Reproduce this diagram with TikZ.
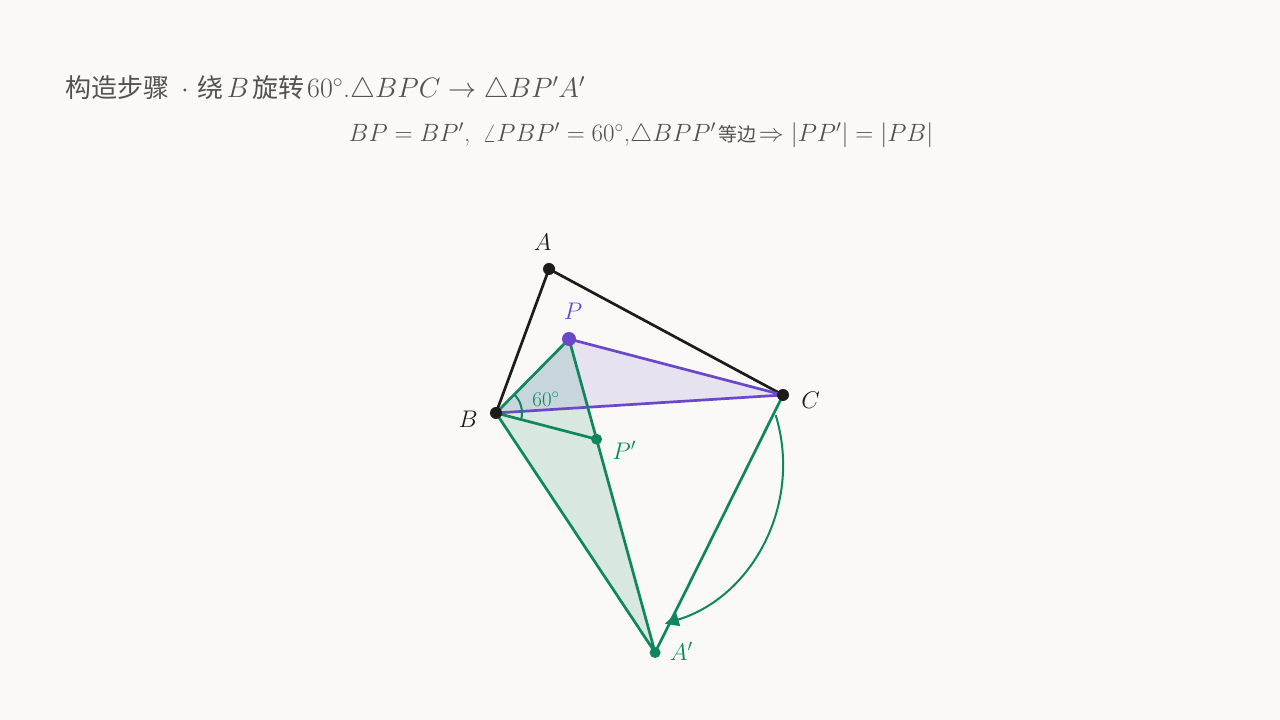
\RequirePackage{fix-cm}
\documentclass[tikz,border=0pt]{standalone}
\usepackage{fontspec}
\newfontfamily\cjk{Noto Sans CJK SC}
\usetikzlibrary{arrows.meta,positioning,calc}
\definecolor{paper}{RGB}{250,249,247}
\definecolor{ink}{RGB}{82,82,82}
\definecolor{dark}{RGB}{28,28,28}
\definecolor{grn}{RGB}{16,134,94}
\definecolor{pur}{RGB}{106,72,200}
\newcommand\hanzi[2]{{\cjk\fontsize{#1}{#1}\selectfont #2}}

\begin{document}
\begin{tikzpicture}[x=1pt,y=1pt,line join=round,
    dot/.style={circle,fill,inner sep=0pt,minimum size=12pt},
    lbl/.style={font=\fontsize{24}{24}\selectfont,inner sep=1pt},
    edge/.style={line width=2.7pt}]

 \fill[paper] (0,0) rectangle (1280,720);

 % heading and the equal-side argument
 \node[anchor=west,text=ink,font=\fontsize{28}{28}\selectfont,inner sep=0pt] (title) at (65,631)
   {\hanzi{26}{构造步骤}\hspace{12pt}$\cdot$\hspace{9pt}\hanzi{26}{绕}\kern3pt$B$\kern3pt\hanzi{26}{旋转}\kern3pt$60^\circ$.$\triangle BPC\to\triangle BP'A'$};
 \node[text=ink,font=\fontsize{25}{25}\selectfont,inner sep=0pt] (claim) at (641,585)
   {$BP=BP'$,\enspace$\angle PBP'=60^\circ$,$\triangle BPP'$\kern3pt\hanzi{19}{等边}\kern2pt$\Rightarrow|PP'|=|PB|$};

 \coordinate (B) at (496,307);
 \coordinate (A) at (549,451);
 \coordinate (C) at (783,325);
 \coordinate (P) at (569,381);
 \coordinate (Q) at ($(B)!1!-60:(P)$);   % P'
 \coordinate (D) at ($(B)!1!-60:(C)$);   % A'
 \coordinate (O) at (616,256);

 % faces
 \fill[pur,opacity=0.13] (B) -- (P) -- (C) -- cycle;
 \fill[grn,opacity=0.14] (B) -- (P) -- (Q) -- (D) -- cycle;

 % sides
 \draw[edge,dark] (B) -- (A) -- (C);
 \draw[edge,pur] (P) -- (C) -- (B);
 \draw[edge,grn] (P) -- (B) -- (Q) (P) -- (Q) -- (D) -- (B) (C) -- (D);
 \draw[grn,line width=2pt] ($(B)+(-14.6:26pt)$) arc[start angle=-14.6,end angle=45.4,radius=26pt];
 \draw[grn,line width=2pt,-{Triangle[length=14pt,width=13pt]}]
   ($(O)+(17:167pt)$) arc[start angle=17,end angle=-73,radius=167pt];

 % points
 \node[dot,dark] (nA) at (A) {};
 \node[dot,dark] (nB) at (B) {};
 \node[dot,dark] (nC) at (C) {};
 \node[dot,pur,minimum size=14pt] (nP) at (P) {};
 \node[dot,grn,minimum size=11pt] (nQ) at (Q) {};
 \node[dot,grn,minimum size=11pt] (nD) at (D) {};

 \node[lbl,dark,above left=13pt and -8pt of nA] (lA) {$A$};
 \node[lbl,dark,left=11pt of nB,yshift=-6pt] (lB) {$B$};
 \node[lbl,dark,right=11pt of nC,yshift=-5pt] (lC) {$C$};
 \node[lbl,pur,above=11pt of nP,xshift=4pt] (lP) {$P$};
 \node[lbl,grn,right=9pt of nQ,yshift=-11pt] (lQ) {$P'$};
 \node[lbl,grn,right=8pt of nD,yshift=1pt] (lD) {$A'$};
 \node[grn,font=\fontsize{21}{21}\selectfont] (ang) at (546,321) {$60^\circ$};

\end{tikzpicture}
\end{document}
